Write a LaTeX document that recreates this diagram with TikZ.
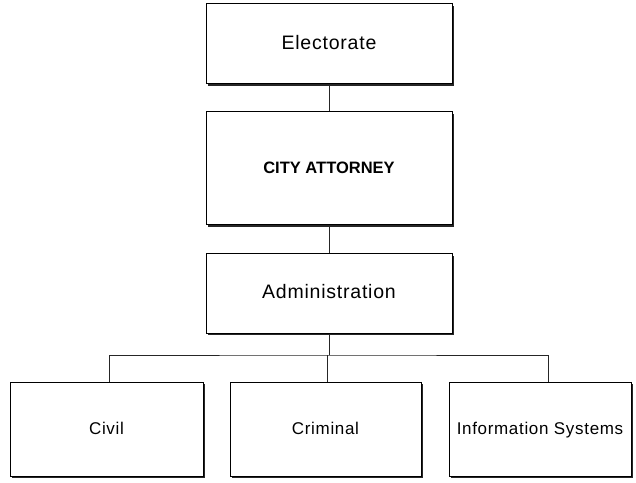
\documentclass[tikz,border=0pt]{standalone}
\usepackage{fontspec}
\setmainfont{Liberation Sans}
\usetikzlibrary{shadows}
\tikzset{
  box/.style={
    draw=black,
    line width=1pt,
    fill=white,
    align=center,
    inner sep=0pt,
    text height=1.05em,
    text depth=0.03em,
    drop shadow={shadow xshift=2pt, shadow yshift=-2pt, fill=black!85, opacity=1},
    font=\fontsize{19.5}{22}\selectfont\addfontfeature{LetterSpace=4}
  },
  box-top/.style={box, minimum width=246pt, minimum height=80pt},
  box-bottom/.style={box, minimum height=94pt,
    font=\fontsize{17}{20}\selectfont\addfontfeature{LetterSpace=4}},
  link/.style={line width=1pt, draw=black!85}
}

\begin{document}
\begin{tikzpicture}[x=1pt,y=1pt]
  \useasboundingbox (0,0) rectangle (636,482);
  % Chain of offices
  \node[box-top] (electorate) at (329,438) {Electorate};
  \node[box-top, minimum height=113pt,
        font=\fontsize{16.5}{19}\selectfont\bfseries] (attorney) at (329,313.5) {CITY ATTORNEY};
  \node[box-top, minimum height=79pt] (admin) at (329,188.5) {Administration};
  % Divisions
  \node[box-bottom, minimum width=193pt] (civil) at (106.5,53) {Civil};
  \node[box-bottom, minimum width=191pt] (criminal) at (325.5,53) {Criminal};
  \node[box-bottom, minimum width=182pt] (infosys) at (540,53) {Information Systems};
  % Lines
  \coordinate (bus) at (327,127);
  \draw[link] (electorate.south) -- (attorney.north);
  \draw[link] (attorney.south) -- (admin.north);
  \draw[link] (admin.south) -- (admin.south |- bus);
  \draw[link] ([xshift=3pt]civil.north) |- (bus) -| ([xshift=8pt]infosys.north);
  \draw[link] (criminal.north -| bus) -- (bus);
\end{tikzpicture}
\end{document}
